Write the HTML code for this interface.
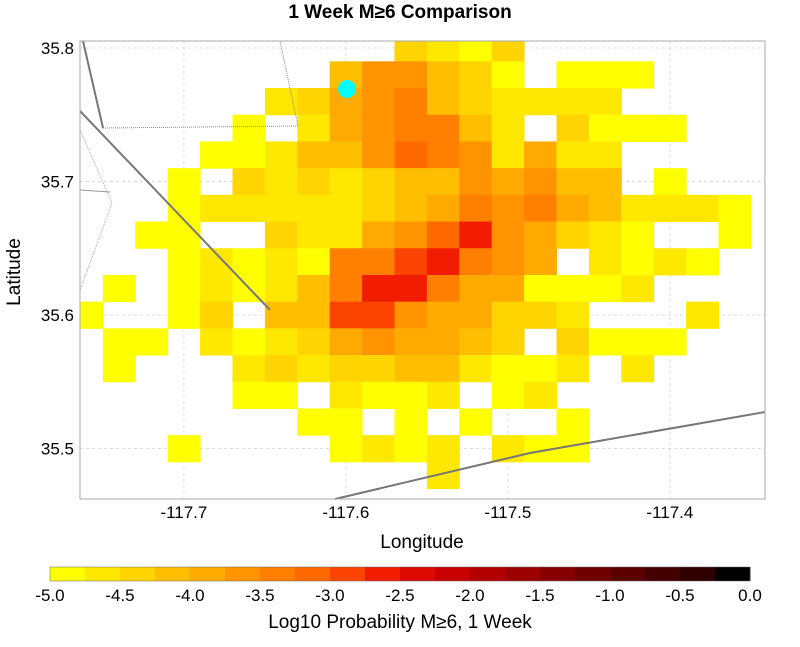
<!DOCTYPE html>
<html><head><meta charset="utf-8"><style>
body{margin:0;background:#fff;}
svg{display:block;font-family:"Liberation Sans",sans-serif;}
</style></head><body>
<svg id="chart" width="800" height="647">
<text x="400" y="18" text-anchor="middle" font-size="19" font-weight="bold">1 Week M≥6 Comparison</text>
<text x="422" y="548" text-anchor="middle" font-size="19">Longitude</text>
<text transform="translate(20,272) rotate(-90)" text-anchor="middle" font-size="19">Latitude</text>
<text x="400" y="628" text-anchor="middle" font-size="19">Log10 Probability M≥6, 1 Week</text>
<g id="grid"></g><g id="cells"></g><g id="faults"></g><g id="axes"></g><g id="cbar"></g>
</svg>
<script>
// data: grid of levels (row 0 = lat 35.80, col 0 = lon -117.76); '.' = no value
const lonStart = -117.76, latStart = 35.80, cellDeg = 0.02;
const xTicks = [-117.7, -117.6, -117.5, -117.4];
const yTicks = [35.5, 35.6, 35.7, 35.8];
const cbarTicks = [-5.0,-4.5,-4.0,-3.5,-3.0,-2.5,-2.0,-1.5,-1.0,-0.5,0.0];
const levelRows = [
"..........2102........",
"........355320.000....",
"......12456321111.....",
".....0.1456631.2000...",
"....0013357651411.....",
"...0.212123354533.0...",
"...011111234656431110.",
"..00..211457954210..0.",
"...010106689654.1010..",
".0.010136996440001....",
"0..02.3388544221...1..",
".00.1012454432.2000...",
".0...1212233100 1.1....".replace(' ',''),
".....00.1001.01.......",
".......00.0.0..0......",
"...0....0101.100......",
"...........1..........",
"......................"
];
const values = levelRows.map(r => r.split('').map(c => c==='.' ? null : -5 + 0.25*(+c) + 0.125));
const colors = ["#ffff00","#ffe800","#ffd400","#ffbf00","#ffaa00","#ff9400","#ff7f00","#ff6a00","#fa4400","#f21c00","#dc0a00","#c80000","#b20000","#9c0000","#860000","#700000","#5a0000","#440000","#2e0000","#000000"];

const PL=80, PR=765, PT=41, PB=499;
const x = lon => 345.9 + (lon + 117.6) * 1620;
const y = lat => 181.5 - (lat - 35.7) * 1335;
const colorFor = v => colors[Math.max(0, Math.min(19, Math.floor((v + 5) / 0.25)))];
const NS = "http://www.w3.org/2000/svg";
function mk(tag, attrs, parent){const e=document.createElementNS(NS,tag);for(const k in attrs)e.setAttribute(k,attrs[k]);parent.appendChild(e);return e;}

const grid = document.getElementById('grid');
xTicks.forEach(t=>{const l=mk('line',{x1:x(t),x2:x(t),y1:PT,y2:PB,stroke:'#ddd','stroke-dasharray':'3,3'},grid);

});
yTicks.forEach(t=>{const l=mk('line',{x1:PL,x2:PR,y1:y(t),y2:y(t),stroke:'#ddd','stroke-dasharray':'3,3'},grid);

});

const cells = document.getElementById('cells');
values.forEach((row, i) => row.forEach((v, j) => {
  if (v === null) return;
  const lon = lonStart + j*cellDeg, lat = latStart - i*cellDeg;
  let x0 = Math.max(PL, x(lon - cellDeg/2)), x1 = Math.min(PR, x(lon + cellDeg/2));
  let y0 = Math.max(PT, y(lat + cellDeg/2)), y1 = Math.min(PB, y(lat - cellDeg/2));
  if (x1 <= x0 || y1 <= y0) return;
  const r = mk('rect',{x:x0,y:y0,width:x1-x0+0.5,height:y1-y0+0.5,fill:colorFor(v)},cells);
  
  
}));

const f = document.getElementById('faults');
[["M83,41 L103,128","#777",2,""],["M80,111 L270,310","#777",2,""],["M335,499 L530,453 L765,412","#777",2,""],
 ["M103,128 L298,126 L280,41","#888",1,"1,1"],["M80,130 L112,203 L80,290","#aaa",1,"1,1"],["M80,190 L110,192","#999",1,""]]
.forEach(p=>{const e=mk('path',{d:p[0],stroke:p[1],'stroke-width':p[2],fill:'none','stroke-dasharray':p[3]},f);

});
const dot = mk('circle',{cx:347,cy:89,r:9,fill:'#00ffff'},f);



const ax = document.getElementById('axes');
const frame = mk('rect',{x:PL,y:PT,width:PR-PL,height:PB-PT,fill:'none',stroke:'#aaa','stroke-width':1},ax);


xTicks.forEach(t=>{const e=mk('text',{x:x(t),y:518,'text-anchor':'middle','font-size':17},ax);e.textContent=t.toFixed(1);

});
yTicks.forEach(t=>{const e=mk('text',{x:74,y:y(t)+6,'text-anchor':'end','font-size':17},ax);e.textContent=t.toFixed(1);

});

const cb = document.getElementById('cbar');
colors.forEach((c,k)=>{const r=mk('rect',{x:50+k*35,y:567,width:35.5,height:14,fill:c},cb);

});
const cbf = mk('rect',{x:50,y:567,width:700,height:14,fill:'none',stroke:'#666','stroke-width':0.5},cb);


cbarTicks.forEach(t=>{const e=mk('text',{x:50+(t+5)*140,y:601,'text-anchor':'middle','font-size':17},cb);e.textContent=t.toFixed(1);

});
</script>
</body></html>
